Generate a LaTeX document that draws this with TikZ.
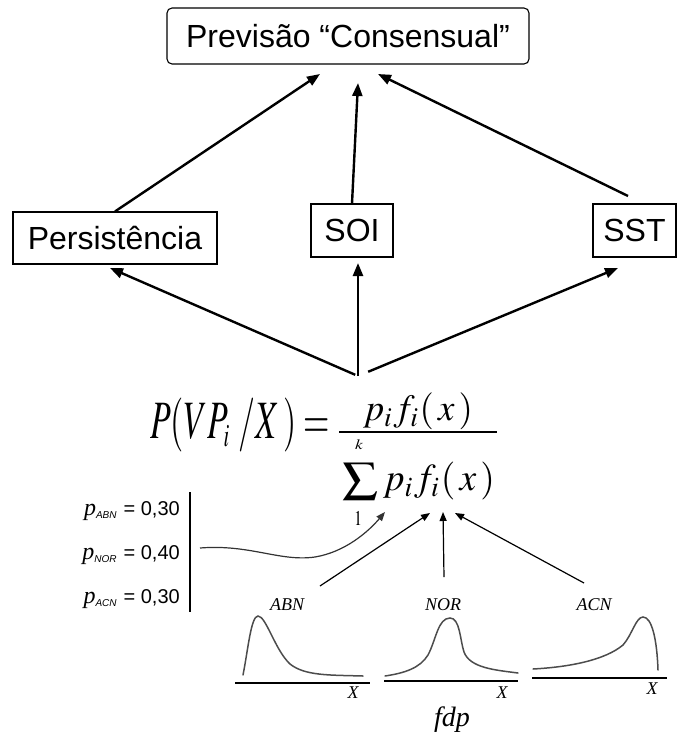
\documentclass[tikz,border=0pt]{standalone}
\usepackage{mathptmx}
\usepackage[no-math]{fontspec}
\setmainfont{Liberation Serif}
\setsansfont{Liberation Sans}
\usepackage{graphicx}
\usetikzlibrary{arrows.meta}

\tikzset{
  box/.style={draw, line width=1.1pt, inner sep=0pt,
    font=\sffamily\fontsize{32}{36}\selectfont},
  bigarrow/.style={line width=2.4pt, -{Triangle[length=13pt,width=10pt]}},
  smallarrow/.style={line width=1.2pt, -{Triangle[length=9pt,width=7pt]}},
  density/.style={line width=1.5pt, draw=black!70, line cap=round},
  axisline/.style={line width=1.2pt},
  piece/.style={inner sep=0pt, outer sep=0pt, anchor=north west},
  cls/.style={inner sep=0pt, font=\itshape\fontsize{18}{20}\selectfont},
  prior/.style={inner sep=0pt, anchor=base east,
    font=\sffamily\fontsize{20}{24}\selectfont},
}

\newcommand{\priorp}[1]{{\rmfamily\itshape\fontsize{24}{24}\selectfont p}\raisebox{-3pt}{\itshape\fontsize{10}{10}\selectfont #1}}

\begin{document}
\begin{tikzpicture}[x=1pt,y=-1pt]
\useasboundingbox (0,0) rectangle (677,744);

% ---- forecast sources ----
\node[box, rounded corners=5pt, minimum width=362pt, minimum height=56pt] (prev) at (348,36) {Previsão “Consensual”};
\node[box, minimum width=204pt, minimum height=52pt] (pers) at (115,238) {Persistência};
\node[box, minimum width=82pt, minimum height=53pt] (soi) at (352,230.5) {SOI};
\node[box, minimum width=83pt, minimum height=53pt] (sst) at (634.5,230.5) {SST};

\coordinate (tL) at (320,74);
\coordinate (tM) at (358,83);
\coordinate (tR) at (378,74);
\coordinate (sstL) at (628,196);
\draw[bigarrow] (pers.north) -- (tL);
\draw[bigarrow] (soi.north) -- (tM);
\draw[bigarrow] (sstL) -- (tR);

% ---- fan from the Bayes formula ----
\coordinate (fan) at (358,376);
\coordinate (bL) at (110,268);
\coordinate (bM) at (358,263);
\coordinate (bR) at (618,268);
\draw[bigarrow, shorten <=3pt] (fan) -- (bL);
\draw[bigarrow] (fan) -- (bM);
\draw[bigarrow, shorten <=11pt] (fan) -- (bR);

% ---- Bayes formula ----
\node[piece] (lhs) at (150,398) {\resizebox*{180pt}{54pt}{$P(VP_{\scriptscriptstyle i}\mkern4mu/X\,)=$}};
\node[piece] (num) at (363,393) {\resizebox*{110pt}{37pt}{$p_if_i(\,x\,)$}};
\draw[line width=1.2pt] (339,432) -- (497,432);
\node[piece] (sum) at (342,463) {\resizebox*{36pt}{37pt}{$\sum$}};
\node[piece] (den) at (383,462) {\resizebox*{112pt}{38pt}{$p_if_i(\,x\,)$}};
\node[inner sep=0pt] (kk) at (359,445) {\resizebox*{8pt}{10pt}{$k$}};
\node[inner sep=0pt] (one) at (358,518) {\resizebox*{8pt}{14pt}{$1$}};

% ---- prior probabilities ----
\node[prior] (pabn) at (180,515) {\priorp{ABN}\hspace{7pt}= 0,30};
\node[prior] (pnor) at (180,559) {\priorp{NOR}\hspace{7pt}= 0,40};
\node[prior] (pacn) at (180,603) {\priorp{ACN}\hspace{7pt}= 0,30};
\draw[line width=1.2pt] (190,492) -- (190,612);

\coordinate (cs) at (200,548);
\coordinate (ct) at (385,512);
\draw[smallarrow, draw=black!80] (cs) .. controls (250,544) and (280,562) .. (315,557)
  .. controls (345,552) and (368,532) .. (ct);

% ---- likelihood arrows ----
\coordinate (s1) at (320,586);
\coordinate (s2) at (444,577);
\coordinate (s3) at (584,583);
\coordinate (e1) at (430,513);
\coordinate (e2) at (443,512);
\coordinate (e3) at (455,513);
\draw[smallarrow] (s1) -- (e1);
\draw[smallarrow] (s2) -- (e2);
\draw[smallarrow] (s3) -- (e3);

% ---- class densities ----
\node[cls] (abn) at (287,605) {ABN};
\node[cls] (nor) at (443,605) {NOR};
\node[cls] (acn) at (594,605) {ACN};

\draw[density] (243,675) .. controls (248,650) and (251,616) .. (258,616)
  .. controls (266,616) and (275,650) .. (290,664)
  .. controls (305,676) and (330,675) .. (363,676);
\draw[density] (385,676) .. controls (405,673) and (420,668) .. (428,655)
  .. controls (436,640) and (438,618) .. (450,618)
  .. controls (460,618) and (460,640) .. (464,652)
  .. controls (470,668) and (495,670) .. (518,673);
\draw[density] (533,669) .. controls (570,667) and (605,660) .. (623,645)
  .. controls (632,635) and (636,617) .. (643,617)
  .. controls (652,617) and (657,640) .. (658,670);

\draw[axisline] (235,683) -- (370,683);
\draw[axisline] (384,681) -- (518,681);
\draw[axisline] (532,678) -- (667,678);
\node[cls] (x1) at (353,693) {X};
\node[cls] (x2) at (502,693) {X};
\node[cls] (x3) at (652,689) {X};
\node[inner sep=0pt, font=\itshape\fontsize{28}{30}\selectfont] (fdp) at (452,720) {fdp};
\end{tikzpicture}
\end{document}
